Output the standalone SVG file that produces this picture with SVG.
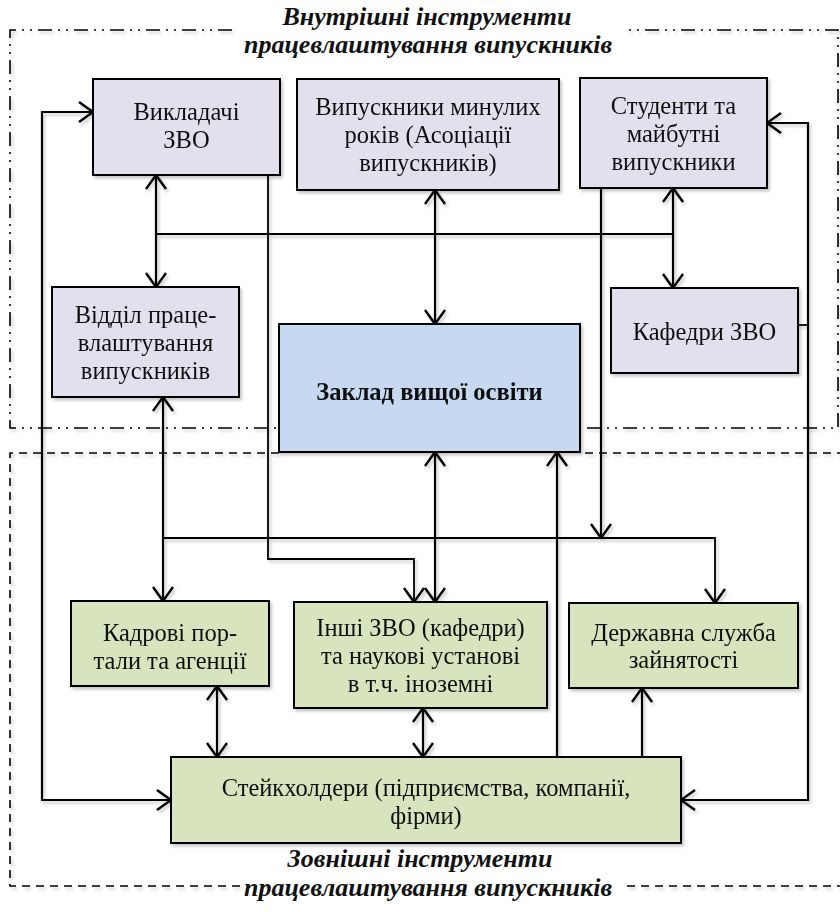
<svg xmlns="http://www.w3.org/2000/svg" width="840" height="912" viewBox="0 0 840 912">
<defs>
  <filter id="sh" x="-10%" y="-10%" width="130%" height="130%">
    <feDropShadow dx="2" dy="2.5" stdDeviation="1.5" flood-color="#000" flood-opacity="0.22"/>
  </filter>
  <marker id="ar" viewBox="0 0 16 22" refX="15" refY="11" markerWidth="16" markerHeight="22" markerUnits="userSpaceOnUse" orient="auto-start-reverse">
    <path d="M1,1 L15,11 L1,21" fill="none" stroke="#000" stroke-width="2.4" stroke-linejoin="miter"/>
  </marker>
</defs>
<style>
  .box { stroke: #000; stroke-width: 2; }
  .lav { fill: #E4DFEC; }
  .blue { fill: #C6D9F1; }
  .grn { fill: #D7E4BD; }
  .t { font-family: "Liberation Serif", "Times New Roman", serif; font-size: 24.5px; fill: #111; text-anchor: middle; }
  .tb { font-weight: bold; }
  .ttl { font-family: "Liberation Serif", "Times New Roman", serif; font-size: 26px; font-weight: bold; font-style: italic; fill: #111; text-anchor: middle; }
  .ln { fill: none; stroke: #000; stroke-width: 2.2; }
  .thin { fill: none; stroke: #000; stroke-width: 1.8; }
  .arr2 { marker-start: url(#ar); marker-end: url(#ar); }
  .arr1 { marker-end: url(#ar); }
  .dd { fill: none; stroke: #000; stroke-width: 1.6; stroke-dasharray: 14 6 2 6 2 6; }
  .ds { fill: none; stroke: #000; stroke-width: 1.6; stroke-dasharray: 8 6; }
</style>
<rect width="840" height="912" fill="#fff"/>

<g id="boundaries" filter="url(#sh)">
  <path class="dd" d="M232,30 H10 V428 H279"/>
  <path class="dd" d="M587,428 H838 V30 H627"/>
  <path class="ds" d="M279,453 H10 V886 H240"/>
  <path class="ds" d="M585,453 H842"/>
  <path class="ds" d="M627,886 H842"/>
</g>

<g id="titles">
  <text class="ttl" x="427" y="25">Внутрішні інструменти</text>
  <text class="ttl" x="428" y="53">працевлаштування випускників</text>
  <text class="ttl" x="420" y="867">Зовнішні інструменти</text>
  <text class="ttl" x="428" y="896">працевлаштування випускників</text>
</g>

<g id="connectors" filter="url(#sh)">
  <path class="ln arr2" d="M93,112 H42 V800 H171"/>
  <path class="ln arr2" d="M767,123 H808 V800 H681"/>
  <path class="thin" d="M798,325 H808"/>
  <path class="ln arr2" d="M156,175 V287"/>
  <path class="thin" d="M156,234 H673"/>
  <path class="ln arr2" d="M673,188 V288"/>
  <path class="ln arr2" d="M435,190 V324"/>
  <path class="ln arr2" d="M163,397 V601"/>
  <path class="thin arr1" d="M163,538 H715 V603"/>
  <path class="thin arr1" d="M268,175 V559 H414 V602"/>
  <path class="ln arr2" d="M435,452 V602"/>
  <path class="ln arr1" d="M557,757 V452"/>
  <path class="ln arr1" d="M601,188 V538"/>
  <path class="ln arr2" d="M217,686 V757"/>
  <path class="ln arr2" d="M423,708 V757"/>
  <path class="ln arr1" d="M642,757 V688"/>
</g>

<g id="n-vykladachi" filter="url(#sh)">
  <rect class="box lav" x="93" y="79" width="187" height="96"/>
  <text class="t" x="186.5" y="120">Викладачі</text>
  <text class="t" x="186.5" y="148">ЗВО</text>
</g>
<g id="n-vypusknyky" filter="url(#sh)">
  <rect class="box lav" x="297" y="79" width="262" height="111"/>
  <text class="t" x="428" y="115">Випускники минулих</text>
  <text class="t" x="428" y="143">років (Асоціації</text>
  <text class="t" x="428" y="171">випускників)</text>
</g>
<g id="n-studenty" filter="url(#sh)">
  <rect class="box lav" x="580" y="78" width="187" height="110"/>
  <text class="t" x="673.5" y="114">Студенти та</text>
  <text class="t" x="673.5" y="142">майбутні</text>
  <text class="t" x="673.5" y="170">випускники</text>
</g>
<g id="n-viddil" filter="url(#sh)">
  <rect class="box lav" x="52" y="287" width="187" height="110"/>
  <text class="t" x="145.5" y="323">Відділ праце-</text>
  <text class="t" x="145.5" y="351">влаштування</text>
  <text class="t" x="145.5" y="379">випускників</text>
</g>
<g id="n-zaklad" filter="url(#sh)">
  <rect class="box blue" x="279" y="324" width="301" height="128"/>
  <text class="t tb" x="429.5" y="400">Заклад вищої освіти</text>
</g>
<g id="n-kafedry" filter="url(#sh)">
  <rect class="box lav" x="611" y="288" width="187" height="85"/>
  <text class="t" x="704.5" y="340">Кафедри ЗВО</text>
</g>
<g id="n-kadrovi" filter="url(#sh)">
  <rect class="box grn" x="71" y="601" width="198" height="85"/>
  <text class="t" x="170" y="641">Кадрові пор-</text>
  <text class="t" x="170" y="669">тали та агенції</text>
</g>
<g id="n-inshi" filter="url(#sh)">
  <rect class="box grn" x="294" y="602" width="253" height="106"/>
  <text class="t" x="420.5" y="636">Інші ЗВО (кафедри)</text>
  <text class="t" x="420.5" y="664">та наукові установі</text>
  <text class="t" x="420.5" y="692">в т.ч. іноземні</text>
</g>
<g id="n-derzhavna" filter="url(#sh)">
  <rect class="box grn" x="569" y="603" width="229" height="85"/>
  <text class="t" x="683.5" y="641">Державна служба</text>
  <text class="t" x="683.5" y="668">зайнятості</text>
</g>
<g id="n-steikholdery" filter="url(#sh)">
  <rect class="box grn" x="171" y="757" width="510" height="86"/>
  <text class="t" x="426" y="796">Стейкхолдери (підприємства, компанії,</text>
  <text class="t" x="426" y="824">фірми)</text>
</g>
</svg>
